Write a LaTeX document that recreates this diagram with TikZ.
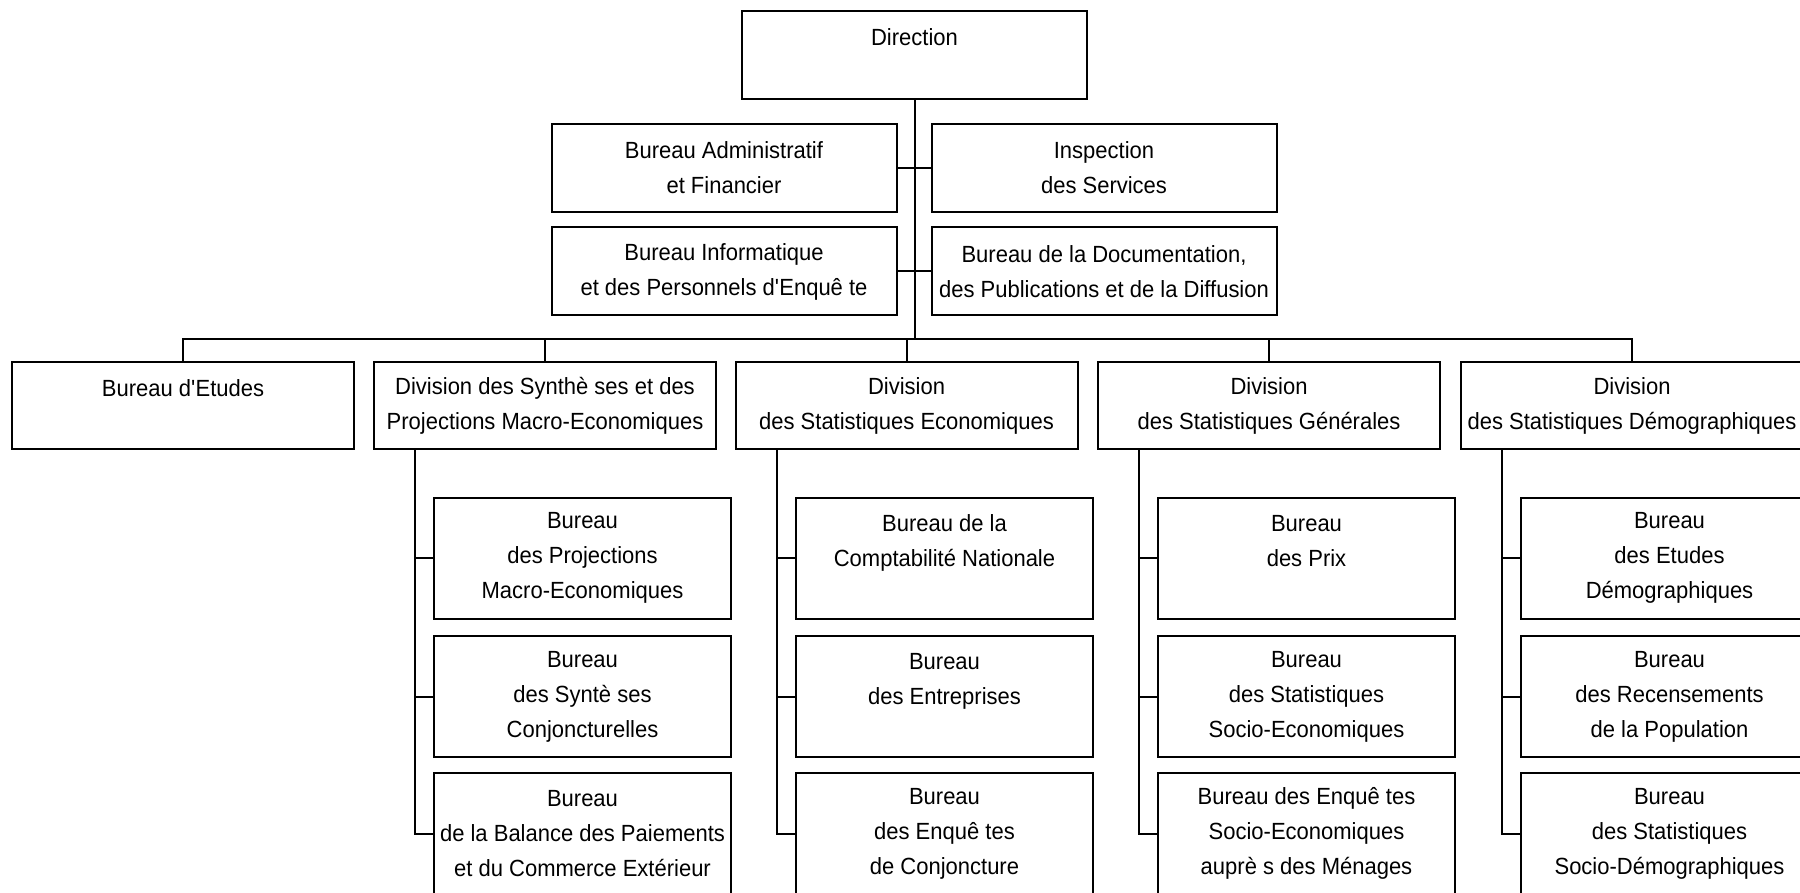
\documentclass[tikz,border=0pt]{standalone}
\usepackage{fontspec}
\setmainfont{Liberation Sans}[FakeStretch=0.94]
\tikzset{
  unit/.style={draw,line width=1pt,inner sep=0pt,align=center,
    font=\fontsize{11.7}{17.5}\selectfont},
  topbox/.style={unit,minimum width=172.5pt,minimum height=44pt},
  divbox/.style={unit,minimum width=171pt,minimum height=43.5pt},
  subbox/.style={unit,minimum width=148.5pt,minimum height=60.5pt},
}
\begin{document}
\begin{tikzpicture}[x=0.5pt,y=-0.5pt,line width=1pt]
%\draw[step=100,gray,very thin] (0,0) grid (1800,893); %background grid
\clip (0,0) rectangle (1800,893);

% direction and staff
\node[topbox] (dir) at (914.5,55) {Direction\\\mbox{}};
\node[topbox] (adm) at (724,168) {Bureau Administratif\\et Financier};
\node[topbox] (insp) at (1104,168) {Inspection\\des Services};
\node[topbox] (info) at (724,271.5) {Bureau Informatique\\et des Personnels d\textquotesingle Enquê te};
\node[topbox] (doc) at (1104,271.5) {Bureau de la Documentation,\\des Publications et de la Diffusion};

\coordinate (bus) at (914.5,339.5);

% divisions
\node[divbox] (etu) at (183,405.5) {Bureau d\textquotesingle Etudes\\\mbox{}};
\node[divbox] (syn) at (545,405.5) {Division des Synthè ses et des\\Projections Macro-Economiques};
\node[divbox] (eco) at (906.5,405.5) {Division\\des Statistiques Economiques};
\node[divbox] (gen) at (1269,405.5) {Division\\des Statistiques Générales};
\node[divbox] (dem) at (1632,405.5) {Division\\des Statistiques Démographiques};

% bureaux
\node[subbox] (syn1) at (582.5,558) {Bureau\\des Projections\\Macro-Economiques};
\node[subbox] (syn2) at (582.5,696.5) {Bureau\\des Syntè ses\\Conjoncturelles};
\node[subbox] (syn3) at (582.5,833.5) {Bureau\\de la Balance des Paiements\\et du Commerce Extérieur};

\node[subbox] (eco1) at (944.5,558) {Bureau de la\\Comptabilité Nationale\\\mbox{}};
\node[subbox] (eco2) at (944.5,696.5) {Bureau\\des Entreprises\\\mbox{}};
\node[subbox] (eco3) at (944.5,833.5) {Bureau\\des Enquê tes\\de Conjoncture};

\node[subbox] (gen1) at (1306.5,558) {Bureau\\des Prix\\\mbox{}};
\node[subbox] (gen2) at (1306.5,696.5) {Bureau\\des Statistiques\\Socio-Economiques};
\node[subbox] (gen3) at (1306.5,833.5) {Bureau des Enquê tes\\Socio-Economiques\\auprè s des Ménages};

\node[subbox] (dem1) at (1669.5,558) {Bureau\\des Etudes\\Démographiques};
\node[subbox] (dem2) at (1669.5,696.5) {Bureau\\des Recensements\\de la Population};
\node[subbox] (dem3) at (1669.5,833.5) {Bureau\\des Statistiques\\Socio-Démographiques};

% connectors
\draw (dir.south) -- (bus);
\draw (adm.east) -- (insp.west);
\draw (info.east) -- (doc.west);
\draw (etu.north) |- (dem.north |- bus) -- (dem.north);
\foreach \d in {syn,eco,gen}
  \draw (\d.north) -- (\d.north |- bus);

\foreach \d in {syn,eco,gen,dem}{
  \draw ([xshift=-9pt]\d1.west |- \d.south) |- (\d3.west);
  \draw ([xshift=-9pt]\d1.west) -- (\d1.west);
  \draw ([xshift=-9pt]\d2.west) -- (\d2.west);
}
\end{tikzpicture}
\end{document}
